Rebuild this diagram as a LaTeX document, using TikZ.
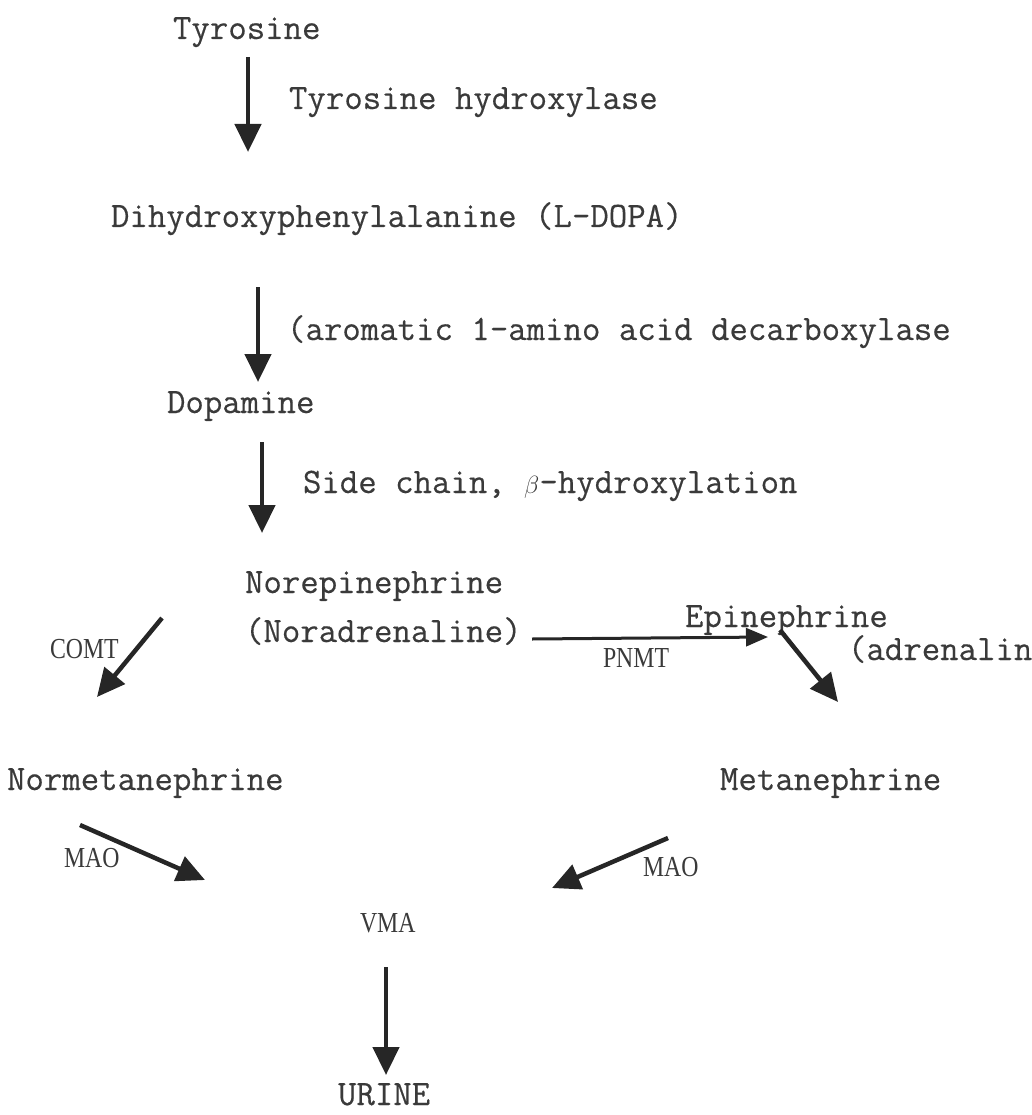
\documentclass[tikz,border=0pt]{standalone}
\usepackage{fontspec}
\usetikzlibrary{arrows.meta}
\setmonofont[FakeBold=0.4]{Latin Modern Mono}
\newfontfamily\enzfont[FakeStretch=0.82]{Liberation Serif}
\definecolor{ink}{HTML}{3A3A3A}
\definecolor{inkdark}{HTML}{262626}
\tikzset{
  compound/.style={anchor=base west,inner sep=0pt,outer sep=0pt,text=ink,
    font=\ttfamily\fontsize{35.8}{40}\selectfont},
  enzyme/.style={anchor=base west,inner sep=0pt,outer sep=0pt,text=ink,
    font=\enzfont\fontsize{29}{32}\selectfont},
  flow/.style={draw=inkdark,line width=4.5pt,-{Triangle[width=26pt,length=28pt]}},
  thinflow/.style={draw=inkdark,line width=3pt,-{Triangle[width=18pt,length=22pt]}}
}
\begin{document}
\begin{tikzpicture}[x=1pt,y=-1pt]
  \useasboundingbox (0,0) rectangle (1032,1115);
  \clip (0,0) rectangle (1032,1115);

  % compounds
  \node[compound] (tyr) at (173,39) {Tyrosine};
  \node[compound] (dopa) at (111,227) {Dihydroxyphenylalanine (L-DOPA)};
  \node[compound] (dopamine) at (167,413) {Dopamine};
  \node[compound] (norepi) at (245,593) {Norepinephrine};
  \node[compound] (noradr) at (245,642) {(Noradrenaline)};
  \node[compound] (epi) at (685,627) {Epinephrine};
  \node[compound] (adr) at (848,660) {(adrenaline)};
  \node[compound] (normeta) at (7,790) {Normetanephrine};
  \node[compound] (meta) at (720,790) {Metanephrine};
  \node[enzyme] (vma) at (360,932) {VMA};
  \node[compound] (urine) at (338,1105) {URINE};

  % enzymes
  \node[compound] (th) at (289,109) {Tyrosine hydroxylase};
  \node[compound] (aadc) at (287,340) {(aromatic 1-amino acid decarboxylase};
  \node[compound] (dbh) at (303,493) {Side chain, $\beta$-hydroxylation};
  \node[enzyme] (pnmt) at (603,667) {PNMT};
  \node[enzyme] (comt) at (50,658) {COMT};
  \node[enzyme] (maoL) at (64,867) {MAO};
  \node[enzyme] (maoR) at (643,876) {MAO};

  % arrow ends
  \coordinate (tyr-out) at (248,57);
  \coordinate (dopa-in) at (248,152);
  \coordinate (dopa-out) at (258,287);
  \coordinate (dopamine-in) at (258,382);
  \coordinate (dopamine-out) at (262,442);
  \coordinate (norepi-in) at (262,533);
  \coordinate (noradr-out) at (532,639);
  \coordinate (epi-in) at (768,637);
  \coordinate (epi-out) at (780,630);
  \coordinate (meta-in) at (838,702);
  \coordinate (norepi-left) at (162,618);
  \coordinate (normeta-in) at (97,697);
  \coordinate (normeta-out) at (80,825);
  \coordinate (vma-inL) at (205,880);
  \coordinate (meta-out) at (668,838);
  \coordinate (vma-inR) at (552,888);
  \coordinate (vma-out) at (386,967);
  \coordinate (urine-in) at (386,1075);

  \draw[flow] (tyr-out) -- (dopa-in);
  \draw[flow] (dopa-out) -- (dopamine-in);
  \draw[flow] (dopamine-out) -- (norepi-in);
  \draw[thinflow] (noradr-out) -- (epi-in);
  \draw[flow] (epi-out) -- (meta-in);
  \draw[flow] (norepi-left) -- (normeta-in);
  \draw[flow] (normeta-out) -- (vma-inL);
  \draw[flow] (meta-out) -- (vma-inR);
  \draw[flow] (vma-out) -- (urine-in);
\end{tikzpicture}
\end{document}
